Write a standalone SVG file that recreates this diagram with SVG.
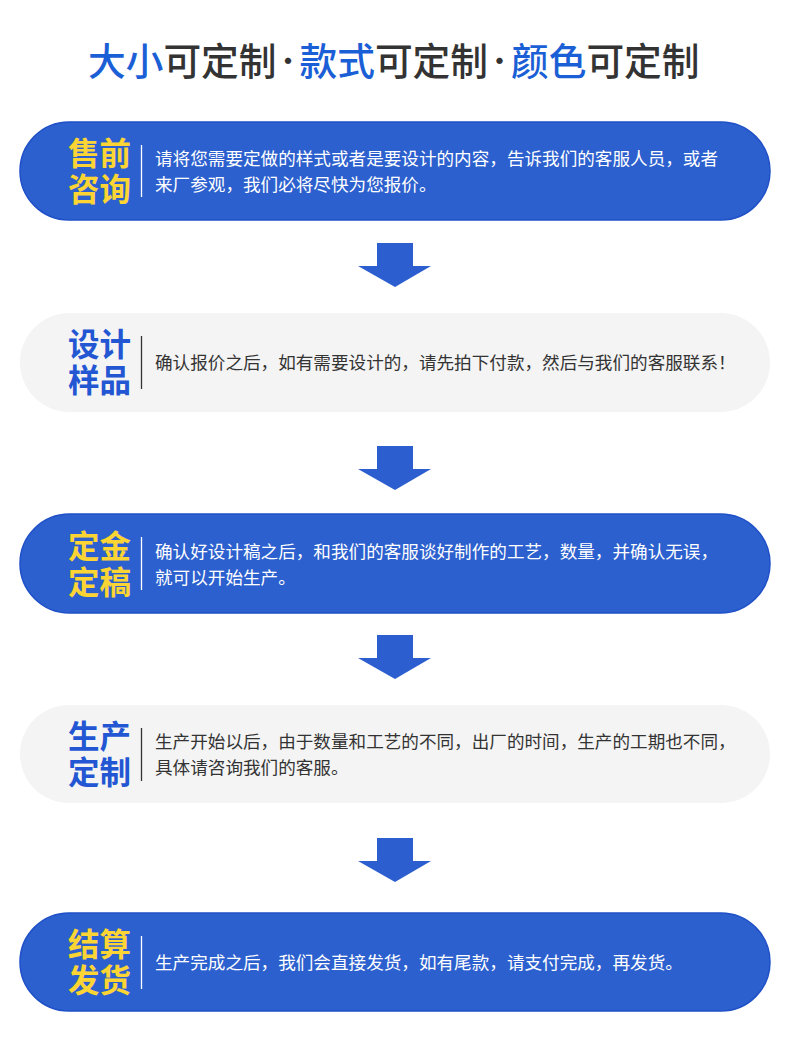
<svg xmlns="http://www.w3.org/2000/svg" width="790" height="1058" viewBox="0 0 790 1058">
<defs>
<style>
text{font-family:"Noto Sans CJK SC","Noto Sans",sans-serif;}
.t{font-size:37.7px;font-weight:500;}
.dot{font-size:30px;font-weight:400;fill:#333333;}
.tb{fill:#1b5fd6;}
.td{fill:#333333;}
.pb{fill:#2c60ce;stroke:#1f50c8;stroke-width:1.5;}
.pl{fill:#f4f4f4;}
.lb{font-size:31.5px;font-weight:700;fill:#fcd535;}
.ll{font-size:31.5px;font-weight:700;fill:#2356d2;}
.bw{font-size:17.6px;font-weight:400;fill:#ffffff;}
.bd{font-size:17.6px;font-weight:400;fill:#333333;}
.dw{stroke:#ffffff;stroke-width:1.3;}
.dd{stroke:#333333;stroke-width:1.3;}
.ar{fill:#2c5ed0;}
</style>
</defs>
<rect width="790" height="1058" fill="#ffffff"/>
<g id="title">
<text class="t tb" x="88" y="74.5">大小</text>
<text class="t td" x="163.4" y="74.5">可定制</text>
<text class="dot" x="288" y="72" text-anchor="middle">·</text>
<text class="t tb" x="299.5" y="74.5">款式</text>
<text class="t td" x="374.9" y="74.5">可定制</text>
<text class="dot" x="499.5" y="72" text-anchor="middle">·</text>
<text class="t tb" x="511" y="74.5">颜色</text>
<text class="t td" x="586.4" y="74.5">可定制</text>
</g>
<g id="step1">
<rect class="pb" x="20" y="122" width="750" height="98" rx="49"/>
<text class="lb" x="68" y="165">售前<tspan x="68" dy="36">咨询</tspan></text>
<line class="dw" x1="141.5" y1="145" x2="141.5" y2="197"/>
<text class="bw" x="155" y="165">请将您需要定做的样式或者是要设计的内容，告诉我们的客服人员，或者<tspan x="155" dy="26">来厂参观，我们必将尽快为您报价。</tspan></text>
</g>
<g id="step2">
<rect class="pl" x="20" y="313" width="750" height="99" rx="49.5"/>
<text class="ll" x="68" y="356">设计<tspan x="68" dy="36">样品</tspan></text>
<line class="dd" x1="141.5" y1="336" x2="141.5" y2="389"/>
<text class="bd" x="155" y="369">确认报价之后，如有需要设计的，请先拍下付款，然后与我们的客服联系！</text>
</g>
<g id="step3">
<rect class="pb" x="20" y="514" width="750" height="99" rx="49.5"/>
<text class="lb" x="68" y="558">定金<tspan x="68" dy="36">定稿</tspan></text>
<line class="dw" x1="141.5" y1="537" x2="141.5" y2="590"/>
<text class="bw" x="155" y="557.5">确认好设计稿之后，和我们的客服谈好制作的工艺，数量，并确认无误，<tspan x="155" dy="26">就可以开始生产。</tspan></text>
</g>
<g id="step4">
<rect class="pl" x="20" y="705" width="750" height="98" rx="49"/>
<text class="ll" x="68" y="748">生产<tspan x="68" dy="36">定制</tspan></text>
<line class="dd" x1="141.5" y1="728" x2="141.5" y2="781"/>
<text class="bd" x="155" y="748">生产开始以后，由于数量和工艺的不同，出厂的时间，生产的工期也不同，<tspan x="155" dy="26">具体请咨询我们的客服。</tspan></text>
</g>
<g id="step5">
<rect class="pb" x="20" y="913" width="750" height="98" rx="49"/>
<text class="lb" x="68" y="956">结算<tspan x="68" dy="36">发货</tspan></text>
<line class="dw" x1="141.5" y1="936" x2="141.5" y2="989"/>
<text class="bw" x="155" y="969">生产完成之后，我们会直接发货，如有尾款，请支付完成，再发货。</text>
</g>
<g id="connectors">
<path class="ar" d="M377 243H413V266H431L395 287L358 266H377Z"/>
<path class="ar" d="M377 446H413V469H431L395 490L358 469H377Z"/>
<path class="ar" d="M377 635H413V658H431L395 679L358 658H377Z"/>
<path class="ar" d="M377 838H413V861H431L395 882L358 861H377Z"/>
</g>
</svg>
